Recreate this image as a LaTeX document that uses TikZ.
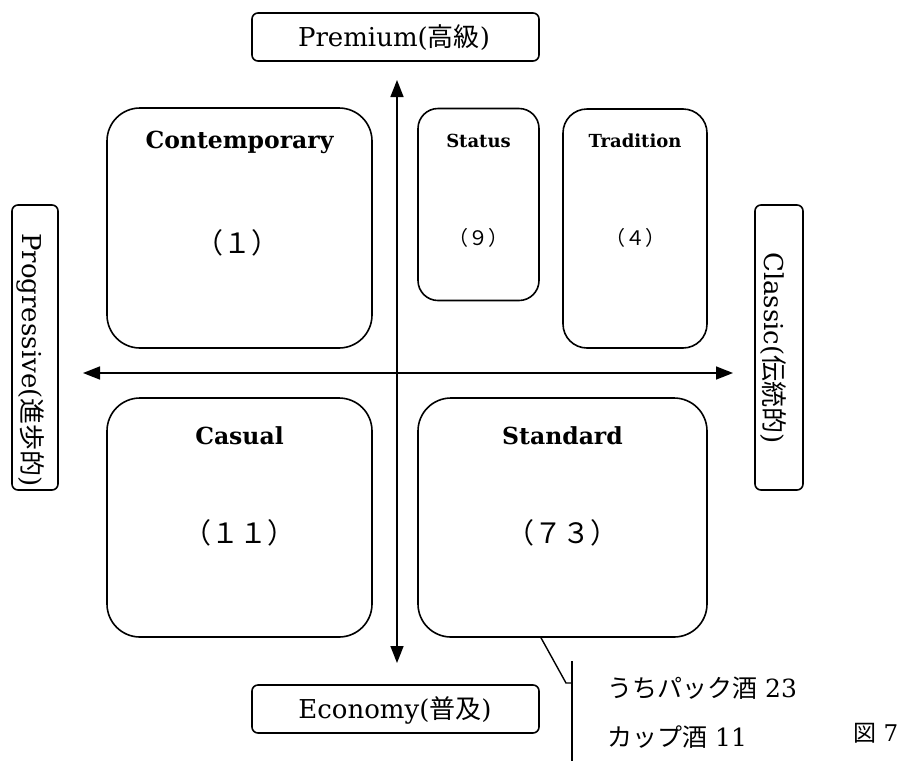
\documentclass[tikz,border=0pt]{standalone}
\usepackage{fontspec}
\setmainfont{DejaVu Serif}
\newfontfamily\jp{Noto Sans CJK JP}
\usetikzlibrary{arrows.meta,calc}
\tikzset{
  frame/.style={draw=black, line width=1.6pt, fill=white, inner sep=0pt},
  axislbl/.style={frame, rounded corners=6pt},
  quad/.style={frame},
  title/.style={font=\fontsize{23.5}{27}\selectfont\bfseries, inner sep=0pt},
  smalltitle/.style={font=\fontsize{18}{21}\selectfont\bfseries, inner sep=0pt},
  count/.style={font=\jp\fontsize{28}{32}\selectfont, inner sep=0pt},
  smallcount/.style={font=\jp\fontsize{20}{24}\selectfont, inner sep=0pt},
  axtext/.style={font=\fontsize{26}{30}\selectfont, inner sep=0pt},
  note/.style={font=\fontsize{25}{29}\selectfont, inner sep=0pt, anchor=west},
  figlbl/.style={font=\fontsize{23}{27}\selectfont, inner sep=0pt, anchor=west},
  axisline/.style={line width=1.6pt, {Triangle[length=17pt,width=13pt]}-{Triangle[length=17pt,width=13pt]}},
  callout/.style={line width=1.4pt}
}
\begin{document}
\begin{tikzpicture}[x=1pt,y=-1pt]
\useasboundingbox (0,0) rectangle (904,761);
% axes
\coordinate (vtop) at (397,80);
\coordinate (vbot) at (397,663);
\coordinate (hleft) at (83,373);
\coordinate (hright) at (733,373);
\draw[axisline] (vtop) -- (vbot);
\draw[axisline] (hleft) -- (hright);
% axis labels
\node[axislbl, minimum width=287pt, minimum height=48pt] (prem) at (395.5,37) {};
\node[axtext] (premt) at (394,38) {Premium({\jp 高級})};
\node[axislbl, minimum width=287pt, minimum height=48pt] (econ) at (395.5,709) {};
\node[axtext] (econt) at (395,710) {Economy({\jp 普及})};
\node[axislbl, minimum width=46pt, minimum height=285pt] (prog) at (35,347.5) {};
\node[axtext, rotate=-90] (progt) at (31,360) {Progressive({\jp 進歩的})};
\node[axislbl, minimum width=48pt, minimum height=285pt] (clas) at (779,347.5) {};
\node[axtext, rotate=-90] (clast) at (773,348) {Classic({\jp 伝統的})};
% quadrant boxes
\node[quad, rounded corners=33pt, minimum width=265pt, minimum height=240pt] (cont) at (239.5,228) {};
\node[title] (contt) at (239.5,142) {Contemporary};
\node[count] (contn) at (237,243) {（１）};
\node[quad, rounded corners=20pt, minimum width=121pt, minimum height=192pt] (stat) at (478.5,204.5) {};
\node[smalltitle] (statt) at (478.5,141) {Status};
\node[smallcount] (statn) at (478.5,238) {（９）};
\node[quad, rounded corners=24pt, minimum width=144pt, minimum height=239pt] (trad) at (635,228.5) {};
\node[smalltitle] (tradt) at (635,141) {Tradition};
\node[smallcount] (tradn) at (635,238) {（４）};
\node[quad, rounded corners=33pt, minimum width=265pt, minimum height=239pt] (casu) at (239.5,517.5) {};
\node[title] (casut) at (239.5,436) {Casual};
\node[count] (casun) at (239.5,533) {（１１）};
\node[quad, rounded corners=33pt, minimum width=289pt, minimum height=239pt] (stan) at (562.5,517.5) {};
\node[title] (stant) at (562.5,436) {Standard};
\node[count] (stann) at (562.5,533) {（７３）};
% callout
\coordinate (c1) at ($(stan.south)+(-21.5,0)$);
\coordinate (c2) at (566,683);
\coordinate (c3) at (572,683);
\coordinate (btop) at (572,661);
\coordinate (bbot) at (572,761);
\draw[callout] (c1) -- (c2) -- (c3);
\draw[callout] (btop) -- (bbot);
\node[note] (n1) at (607,688) {{\jp うちパック酒} 23};
\node[note] (n2) at (607,737) {{\jp カップ酒} 11};
\node[figlbl] (fig) at (853,733) {{\jp 図} 7};
\end{tikzpicture}
\end{document}
